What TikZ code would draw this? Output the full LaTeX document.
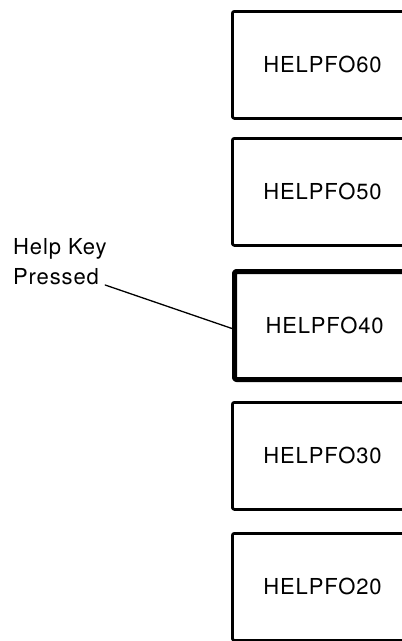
\documentclass[tikz,border=0pt]{standalone}
\usepackage{fontspec}
\newfontfamily\helpfont[LetterSpace=4]{TeX Gyre Heros}

\begin{document}
\begin{tikzpicture}[line cap=round,line join=round,x=1pt,y=-1pt,
		panel/.style={draw,line width=2.8pt,rounded corners=2pt,anchor=north west,minimum height=107pt,text width=150pt,inner xsep=31pt,align=left,font=\helpfont\fontsize{22}{27}\selectfont},
		current/.style={panel,line width=5pt},
		note/.style={anchor=base west,inner sep=0pt,font=\helpfont\fontsize{22}{27}\selectfont}]
	\useasboundingbox (0,0) rectangle (402,641);
	\clip (0,0) rectangle (402,641);
	% screens, top to bottom
	\node[panel] (box60) at (231,10) {HELPFO60};
	\node[panel] (box50) at (231,137) {HELPFO50};
	\node[current,minimum height=108pt] (box40) at (232,269) {HELPFO40};
	\node[panel] (box30) at (231,401) {HELPFO30};
	\node[panel] (box20) at (231,532) {HELPFO20};
	% key label
	\node[note] (help) at (13,254) {Help Key};
	\node[note] (pressed) at (13,284) {Pressed};
	\draw [line width=1.3pt] ([xshift=6pt,yshift=-1pt]pressed.base east)-- ([yshift=-3pt]box40.west);
\end{tikzpicture}
\end{document}
